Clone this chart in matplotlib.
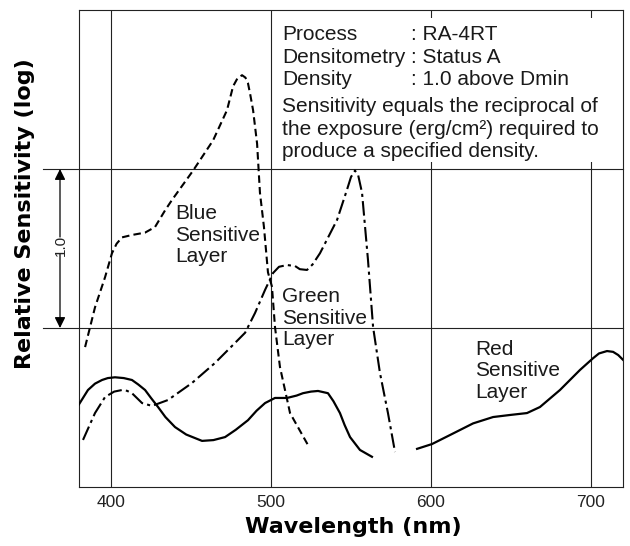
import matplotlib
matplotlib.use("Agg")
import matplotlib.pyplot as plt
from matplotlib.patches import Rectangle

plt.rcParams.update({
    "font.family": ["Liberation Sans", "DejaVu Sans"],
    "figure.facecolor": "white",
})

# Blue sensitive layer (dashed)
blue_nm = [383.8, 390, 396.3, 400.6, 403.5, 406.9, 413.1, 421.3, 427.5, 433.8, 438.1,
           451.3, 463.8, 472.5, 476.3, 479, 481.9, 484, 485.6, 487, 488.8, 491.3,
           493.1, 495.6, 498.1, 500.6, 502.5, 505.6, 511.9, 523.1]
blue_s = [0.88, 1.13, 1.32, 1.47, 1.53, 1.57, 1.585, 1.60, 1.635, 1.74, 1.805,
          1.99, 2.18, 2.37, 2.52, 2.57, 2.59, 2.575, 2.54, 2.47, 2.37, 2.16,
          1.85, 1.635, 1.35, 1.26, 1.006, 0.755, 0.465, 0.264]

# Green sensitive layer (dash-dot)
green_nm = [382.5, 390, 396.3, 402, 406.9, 410, 413.1, 419.4, 425.6, 435.6, 450.6,
            465, 477.5, 483.8, 490, 496.3, 501.3, 505, 510, 515, 518, 522.5, 526,
            530.6, 541.3, 547.5, 550, 552.5, 554.5, 556.9, 560.6, 563.8, 568.1,
            573.1, 577.5]
green_s = [0.296, 0.465, 0.566, 0.60, 0.61, 0.605, 0.59, 0.528, 0.51, 0.547, 0.654,
           0.78, 0.906, 0.97, 1.094, 1.24, 1.346, 1.385, 1.396, 1.39, 1.37, 1.365,
           1.40, 1.47, 1.68, 1.87, 1.95, 1.99, 1.96, 1.85, 1.43, 1.006, 0.717,
           0.465, 0.22]

# Red sensitive layer, short-wave part (solid)
red_lo_nm = [380, 385.6, 390, 394.4, 398, 402.5, 408, 413.1, 417, 421.3, 425,
             429.4, 434, 440, 447, 456.9, 464, 471.3, 478, 485.6, 491, 496.3,
             502.5, 510, 516, 520, 525, 529.4, 535.6, 539, 543.1, 546, 549.4,
             555.6, 563.1]
red_lo_s = [0.52, 0.61, 0.65, 0.673, 0.685, 0.69, 0.685, 0.673, 0.645, 0.61, 0.56,
            0.503, 0.44, 0.377, 0.33, 0.29, 0.295, 0.314, 0.36, 0.42, 0.48, 0.528,
            0.56, 0.56, 0.575, 0.59, 0.60, 0.604, 0.59, 0.54, 0.465, 0.39, 0.314,
            0.233, 0.19]

# Red sensitive layer, main band (solid)
red_nm = [591.3, 600.6, 611.9, 626.3, 638.8, 649.4, 660, 668.1, 680.6, 693.1,
          701.3, 705, 710, 713.8, 717, 720]
red_s = [0.24, 0.27, 0.327, 0.40, 0.44, 0.453, 0.465, 0.503, 0.61, 0.736,
         0.81, 0.84, 0.855, 0.85, 0.83, 0.80]

x_ticks = [400, 500, 600, 700]
y_grid = [1, 2]

info_keys = ["Process", "Densitometry", "Density"]
info_vals = [": RA-4RT", ": Status A", ": 1.0 above Dmin"]
info_note = ["Sensitivity equals the reciprocal of",
             "the exposure (erg/cm\u00b2) required to",
             "produce a specified density."]
layer_names = ["Blue", "Green", "Red"]

W, H = 630, 546
AX_L, AX_R, AX_T, AX_B = 79, 623, 10, 487


def fx(px):
    return (px - AX_L) / (AX_R - AX_L)


def fy(py):
    return (AX_B - py) / (AX_B - AX_T)


fig = plt.figure(figsize=(W / 100, H / 100), dpi=100)
ax = fig.add_axes([AX_L / W, 1 - AX_B / H, (AX_R - AX_L) / W, (AX_B - AX_T) / H])
ax.set_xlim(380, 720)
ax.set_ylim(0, 3)

grid_kw = dict(color="#222222", lw=0.8, zorder=1)
for xv in x_ticks:
    ax.axvline(xv, **grid_kw)
for yv in y_grid:
    ax.plot([fx(43), 1], [yv / 3, yv / 3], transform=ax.transAxes,
            clip_on=False, **grid_kw)

for sp in ax.spines.values():
    sp.set_linewidth(0.8)
    sp.set_color("#222222")

# white panel behind the note text
ax.add_patch(Rectangle((fx(277), fy(162)), fx(621) - fx(277), fy(18) - fy(162),
                       transform=ax.transAxes, facecolor="white",
                       edgecolor="none", zorder=2))

ax.plot(blue_nm, blue_s, color="black", lw=1.5, ls=(0, (3.6, 2)), zorder=3)
ax.plot(green_nm, green_s, color="black", lw=1.5, ls=(0, (7, 2, 1.5, 2)), zorder=3)
ax.plot(red_lo_nm, red_lo_s, color="black", lw=1.6, zorder=3)
ax.plot(red_nm, red_s, color="black", lw=1.6, zorder=3)

ax.set_xticks(x_ticks)
ax.set_xticklabels([str(v) for v in x_ticks], fontsize=12.5, color="#222222")
ax.set_yticks([])
ax.tick_params(axis="x", length=0, pad=6)

fig.text(353 / W, 1 - 533 / H, "Wavelength (nm)", family="DejaVu Sans",
         fontsize=16, fontweight="bold", ha="center", va="baseline")
fig.text(25 / W, 1 - 214 / H, "Relative Sensitivity (log)", family="DejaVu Sans",
         fontsize=16, fontweight="bold", rotation=90, ha="center", va="center")

# note block
txt_kw = dict(transform=ax.transAxes, fontsize=15, va="baseline", zorder=4,
              color="#1a1a1a")
for k, v, py in zip(info_keys, info_vals, [40, 63, 85]):
    ax.text(fx(282), fy(py), k, **txt_kw)
    ax.text(fx(411), fy(py), v, **txt_kw)
for line, py in zip(info_note, [112, 135, 157]):
    ax.text(fx(282), fy(py), line, **txt_kw)

# curve labels
label_pos = [(175, 219), (282, 302), (475, 355)]
for name, (lx, ly) in zip(layer_names, label_pos):
    for i, word in enumerate([name, "Sensitive", "Layer"]):
        ax.text(fx(lx), fy(ly + 21.5 * i), word, **txt_kw)

# 1.0 scale bar on the left
bx = fx(60)
arrow_kw = dict(arrowstyle="-|>", color="black", lw=0.9,
                mutation_scale=16, shrinkA=0, shrinkB=0)
ax.annotate("", xy=(bx, 2 / 3), xytext=(bx, fy(237)), xycoords="axes fraction",
            arrowprops=arrow_kw)
ax.annotate("", xy=(bx, 1 / 3), xytext=(bx, fy(254)), xycoords="axes fraction",
            arrowprops=arrow_kw)
ax.text(fx(61), fy(245), "1.0", transform=ax.transAxes, rotation=90, fontsize=11,
        ha="center", va="center", color="#222222")

fig.savefig("out.png", dpi=100, facecolor="white")
